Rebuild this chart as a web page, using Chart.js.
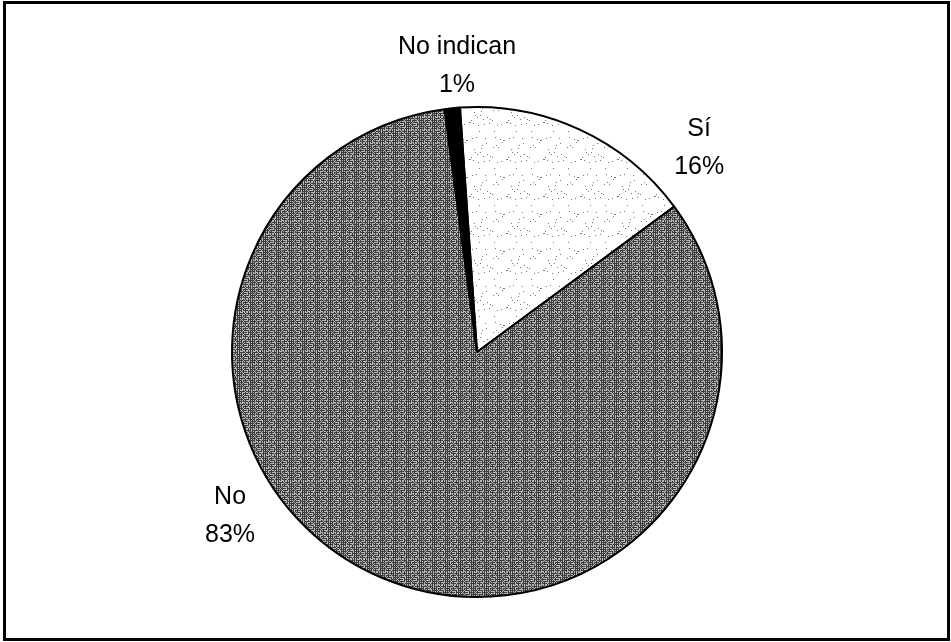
<!DOCTYPE html>
<html>
<head>
<meta charset="utf-8">
<script src="https://cdn.jsdelivr.net/npm/chart.js@4.4.1/dist/chart.umd.min.js"></script>
<style>
  html, body { margin: 0; padding: 0; background: #fff; }
  #wrap { width: 951px; height: 642px; }
</style>
</head>
<body>
<div id="wrap"><canvas id="chart" width="951" height="642"></canvas></div>
<script>
const categories = ['Sí', 'No', 'No indican'];
const percents = [16, 83, 1];
// where each label sits: angle from 12 o'clock (deg) and distance in pie radii
const labelAngles = [47.5, 236.4, -4];
const labelDist = [1.23, 1.21, 1.17];

// small tiled textures for the halftone look of the slices
function makePattern(size, base, dot, test) {
  const c = document.createElement('canvas');
  c.width = size; c.height = size;
  const g = c.getContext('2d');
  g.fillStyle = base;
  g.fillRect(0, 0, size, size);
  g.fillStyle = dot;
  for (let y = 0; y < size; y++) {
    for (let x = 0; x < size; x++) {
      if (test(x, y)) g.fillRect(x, y, 1, 1);
    }
  }
  return g.createPattern(c, 'repeat');
}

const lightFill = makePattern(37, '#ffffff', '#777777', (x, y) => ((x * x * 3 + y * 17 + x * y) % 41) === 0);
const darkFill = makePattern(13, '#3c3c3c', '#b8b8b8', (x, y) => (x % 2 === 0 && y % 2 === 0) || ((x * 5 + y * y) % 7) === 0);

const frame = {
  id: 'frame',
  afterDraw(chart) {
    const c = chart.ctx;
    c.save();
    c.strokeStyle = '#000';
    c.lineWidth = 3;
    c.strokeRect(4.5, 2.5, 944, 637);
    c.restore();
  }
};

const outsideLabels = {
  id: 'outsideLabels',
  afterDatasetsDraw(chart) {
    const c = chart.ctx;
    const arcs = chart.getDatasetMeta(0).data;
    c.save();
    c.font = '25px "Liberation Sans", Arial, sans-serif';
    c.fillStyle = '#000';
    c.textAlign = 'center';
    c.textBaseline = 'middle';
    arcs.forEach((arc, i) => {
      const a = labelAngles[i] * Math.PI / 180;
      const r = arc.outerRadius * labelDist[i];
      const x = arc.x + r * Math.sin(a);
      const y = arc.y - r * Math.cos(a);
      c.fillText(categories[i], x, y - 19);
      c.fillText(percents[i] + '%', x, y + 19);
    });
    c.restore();
  }
};

new Chart(document.getElementById('chart'), {
  type: 'pie',
  data: {
    labels: categories,
    datasets: [{
      data: percents,
      backgroundColor: [lightFill, darkFill, '#000000'],
      borderColor: '#000',
      borderWidth: 2,
      hoverOffset: 0
    }]
  },
  options: {
    responsive: false,
    animation: false,
    rotation: -4,
    events: [],
    layout: { padding: { top: 106, bottom: 44, left: 3, right: 0 } },
    plugins: {
      legend: { display: false },
      tooltip: { enabled: false }
    }
  },
  plugins: [outsideLabels, frame]
});
</script>
</body>
</html>
